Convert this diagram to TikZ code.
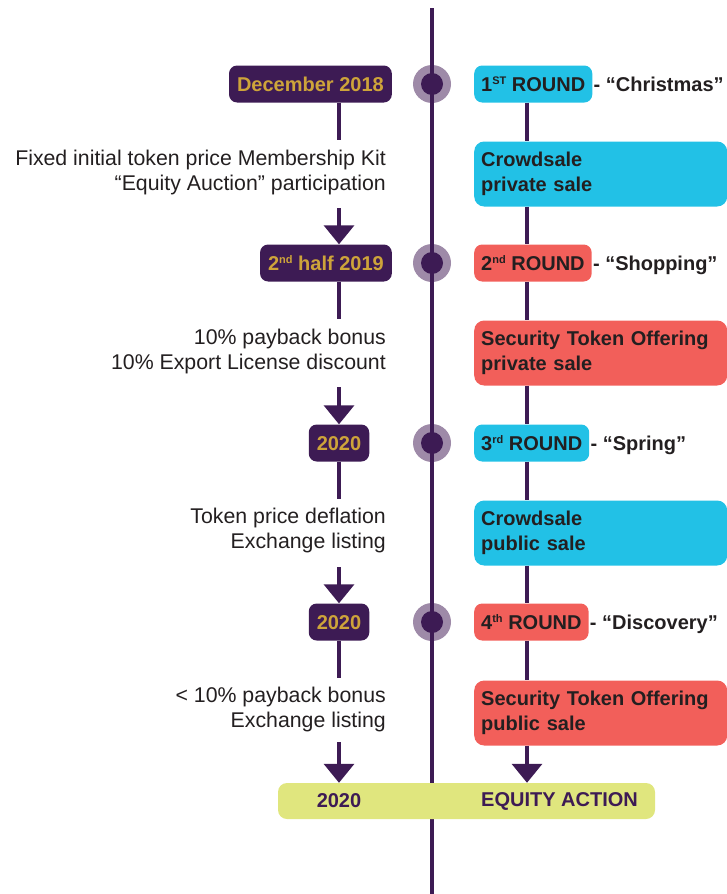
\documentclass[tikz,border=0pt]{standalone}
\usepackage{fontspec}
\setmainfont{Liberation Sans}
\usetikzlibrary{arrows.meta}

\definecolor{tldark}{RGB}{61,27,84}
\definecolor{tlring}{RGB}{158,138,168}
\definecolor{tlgold}{RGB}{206,164,58}
\definecolor{tlcyan}{RGB}{34,193,230}
\definecolor{tlred}{RGB}{242,95,90}
\definecolor{tlyellow}{RGB}{224,230,126}
\definecolor{tltext}{RGB}{35,31,32}

\newcommand\tlfont{\fontsize{20bp}{25bp}\selectfont}
\newcommand\descfont{\fontsize{21.3bp}{25bp}\selectfont}
\newcommand\ordsup[1]{\raisebox{6.5bp}{\fontsize{11bp}{11bp}\selectfont #1}}

\tikzset{
  datebox/.style={fill=tldark, text=tlgold, rounded corners=8bp, font=\tlfont\bfseries,
    minimum height=37bp, text height=14.5bp, text depth=0pt, inner xsep=8bp, inner ysep=0pt},
  roundbox/.style={fill=#1, text=tltext, rounded corners=8bp, font=\tlfont\bfseries,
    minimum height=37bp, text height=14.5bp, text depth=0pt, inner xsep=7bp, inner ysep=0pt, anchor=west},
  salebox/.style={fill=#1, text=tltext, rounded corners=10bp, font=\tlfont\bfseries,
    minimum height=65bp, text width=239bp, inner xsep=7bp, inner ysep=0pt, align=left, anchor=west},
  tagtext/.style={text=tltext, font=\tlfont\bfseries, inner xsep=1bp, anchor=base west},
  desctext/.style={text=tltext, font=\descfont, align=right, anchor=east, inner sep=0pt},
  link/.style={draw=tldark, line width=3.5bp},
}

\begin{document}
\begin{tikzpicture}[x=1bp,y=-1bp,>={Triangle[width=30bp,length=19bp]}]
  \useasboundingbox (0,0) rectangle (727,894);
  \coordinate (xl) at (339,0); % 左の縦線
  \coordinate (xr) at (527,0); % 右の縦線
  \coordinate (top) at (432,8);
  \coordinate (bot) at (432,894);

  % 中央の丸
  \foreach \i/\y in {1/84,2/263,3/443,4/622} {
    \node (c-\i) [circle, fill=tlring, minimum size=38bp, inner sep=0pt] at (432,\y) {};
  }
  \draw[link, line width=4bp] (top) -- (bot); % 中央の線
  \foreach \i in {1,...,4} {
    \node [circle, fill=tldark, minimum size=22bp, inner sep=0pt] at (c-\i) {};
  }

  % 左側
  \node (d1) [datebox, anchor=east] at (392,84) {December 2018};
  \node (d2) [datebox, anchor=east] at (392,263) {2\ordsup{nd} half 2019};
  \node (d3) [datebox] at (339,443) {2020};
  \node (d4) [datebox] at (339,622) {2020};
  \node (e1) [desctext] at (386,172) {Fixed initial token price Membership Kit\\“Equity Auction” participation};
  \node (e2) [desctext] at (386,351) {10\% payback bonus\\10\% Export License discount};
  \node (e3) [desctext] at (386,530) {Token price deflation\\Exchange listing};
  \node (e4) [desctext] at (386,709) {< 10\% payback bonus\\Exchange listing};

  % 右側
  \node (r1) [roundbox=tlcyan] at (474,84) {1\ordsup{ST} ROUND};
  \node (r2) [roundbox=tlred] at (474,263) {2\ordsup{nd} ROUND};
  \node (r3) [roundbox=tlcyan] at (474,443) {3\ordsup{rd} ROUND};
  \node (r4) [roundbox=tlred] at (474,622) {4\ordsup{th} ROUND};
  \node (t1) [tagtext] at (r1.base east) {- “Christmas”};
  \node (t2) [tagtext] at (r2.base east) {- “Shopping”};
  \node (t3) [tagtext] at (r3.base east) {- “Spring”};
  \node (t4) [tagtext] at (r4.base east) {- “Discovery”};
  \node (s1) [salebox=tlcyan] at (474,174) {Crowdsale\\private sale};
  \node (s2) [salebox=tlred] at (474,353) {Security Token Offering\\private sale};
  \node (s3) [salebox=tlcyan] at (474,533) {Crowdsale\\public sale};
  \node (s4) [salebox=tlred] at (474,713) {Security Token Offering\\public sale};

  % 左の線と矢印
  \foreach \i/\y in {1/84,2/263,3/443} {
    \coordinate (la-\i) at (339,\y+56);
    \coordinate (lb-\i) at (339,\y+124);
  }
  \coordinate (lb-4) at (339,742);
  \draw[link] (d1.south -| xl) -- (la-1);
  \draw[link,->] (lb-1) -- (d2.north -| xl);
  \draw[link] (d2.south -| xl) -- (la-2);
  \draw[link,->] (lb-2) -- (d3.north);
  \draw[link] (d3.south) -- (la-3);
  \draw[link,->] (lb-3) -- (d4.north);
  \draw[link] (d4.south) -- (339,678);

  % 右の線
  \foreach \i in {1,...,4} {
    \draw[link] (r\i.south -| xr) -- (s\i.north -| xr);
  }
  \foreach \i/\j in {1/2,2/3,3/4} {
    \draw[link] (s\i.south -| xr) -- (r\j.north -| xr);
  }

  % 一番下の帯
  \node (bar) [fill=tlyellow, rounded corners=9bp, minimum width=377bp, minimum height=36bp] at (466.5,801) {};
  \node (bar-year) [text=tldark, font=\tlfont\bfseries] at (339,801) {2020};
  \node (bar-eq) [text=tldark, font=\tlfont\bfseries, anchor=west, inner xsep=0pt] at (481,801) {EQUITY ACTION};
  \draw[link,->] (lb-4) -- (bar.north -| xl);
  \draw[link,->] (s4.south -| xr) -- (bar.north -| xr);
\end{tikzpicture}
\end{document}
